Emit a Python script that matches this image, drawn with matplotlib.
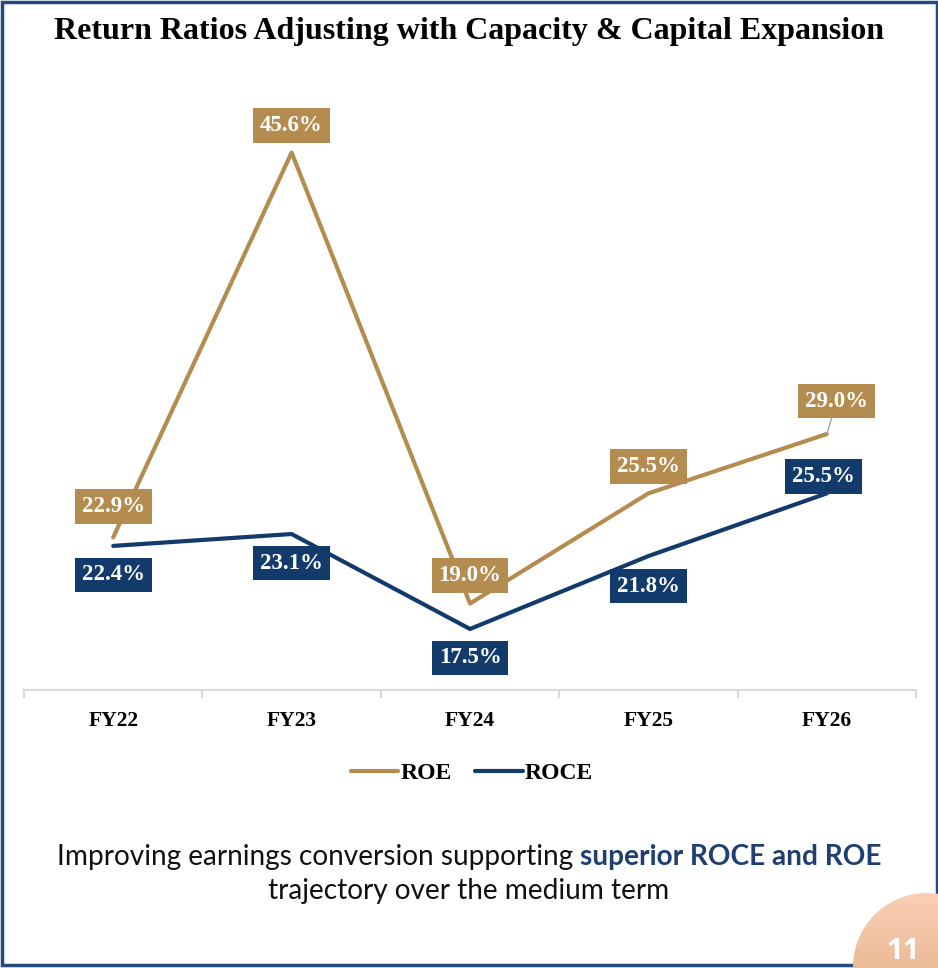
import numpy as np
import matplotlib.pyplot as plt
from matplotlib.patches import Rectangle, Circle

years = ['FY22', 'FY23', 'FY24', 'FY25', 'FY26']
roe = [22.9, 45.6, 19.0, 25.5, 29.0]
roce = [22.4, 23.1, 17.5, 21.8, 25.5]

gold = '#B48C4F'
navy = '#123A6B'
frame = '#264A7E'
serif = 'Liberation Serif'

# label offsets in pixels (dx, dy) relative to each point
roe_off = [(0, 31), (0, 27), (0, 28), (0, 27), (10, 33)]
roce_off = [(0, -29), (0, -29), (0, -29), (0, -30), (-3, 17)]

W, H = 938, 968
fig = plt.figure(figsize=(W / 100, H / 100), dpi=100)

# background layer in pixel coordinates: frame + page number bubble
bg = fig.add_axes([0, 0, 1, 1], zorder=0)
bg.set_xlim(0, W); bg.set_ylim(H, 0); bg.axis('off')
bg.add_patch(Rectangle((1.5, 1.5), W - 3, 963, fill=False, ec=frame, lw=2.5))
cx, cy, r = 927, 967, 74
circ = Circle((cx, cy), r, transform=bg.transData, fc='none', ec='none')
bg.add_patch(circ)
grad = np.linspace(0, 1, 100)[:, None]
c_top = np.array([250, 206, 182]) / 255
c_bot = np.array([222, 168, 122]) / 255
img = c_top + (c_bot - c_top) * grad[..., None]
img = np.repeat(img, 2, axis=1)
im = bg.imshow(img, extent=(cx - r, cx + r, cy + r, cy - r), origin='upper',
               aspect='auto', zorder=2)
im.set_clip_path(circ)
bg.set_xlim(0, W); bg.set_ylim(H, 0)
bg.text(903, 966, '11', color='white', fontsize=21, fontweight='bold',
        family='Open Sans', ha='center', va='bottom', zorder=3)

# title
fig.text(0.5, 1 - 32 / H, 'Return Ratios Adjusting with Capacity & Capital Expansion',
         ha='center', va='center', fontsize=23, fontweight='bold', family=serif)

# main chart
ax = fig.add_axes([24 / W, 1 - 690 / H, (916 - 24) / W, (690 - 78) / H], zorder=1)
ax.set_facecolor('none')
x = np.arange(len(years))
ax.plot(x, roe, color=gold, lw=3, label='ROE', solid_capstyle='round', zorder=2)
ax.plot(x, roce, color=navy, lw=3, label='ROCE', solid_capstyle='round', zorder=2)
ax.set_xlim(-0.5, len(years) - 0.5)
ax.set_ylim(13.9, 50)

for vals, offs, col in [(roe, roe_off, gold), (roce, roce_off, navy)]:
    for i, v in enumerate(vals):
        dx, dy = offs[i]
        arrow = None
        if abs(dx) > 5:
            arrow = dict(arrowstyle='-', color='#A6A6A6', lw=1, shrinkA=0, shrinkB=0)
        ax.annotate(f'{v:.1f}%', (x[i], v), xytext=(dx, dy), textcoords='offset pixels',
                    ha='center', va='center', color='white', fontsize=16.5,
                    fontweight='bold', family=serif, zorder=5, arrowprops=arrow,
                    bbox=dict(boxstyle='square,pad=0.3', fc=col, ec='none'))

for s in ['top', 'right', 'left']:
    ax.spines[s].set_visible(False)
ax.spines['bottom'].set_color('#D9D9D9')
ax.spines['bottom'].set_linewidth(1.5)
ax.set_yticks([])
ax.set_xticks(x)
ax.set_xticklabels(years, fontsize=15.5, fontweight='bold', family=serif)
ax.tick_params(axis='x', which='major', length=0, pad=15)
ax.set_xticks(np.arange(-0.5, len(years)), minor=True)
ax.tick_params(axis='x', which='minor', length=6, width=1.5, color='#D9D9D9')

fig.legend(loc='center', bbox_to_anchor=(472 / W, 1 - 773 / H), ncol=2, frameon=False,
           prop=dict(family=serif, weight='bold', size=17), handlelength=2.0,
           handletextpad=0.1, columnspacing=1.0)

# footnote with highlighted part
fs = 20.2
p1 = 'Improving earnings conversion supporting '
p2 = 'superior ROCE and ROE'
t1 = fig.text(0, 1 - 857 / H, p1, fontsize=fs, family='Lato', va='center', color='#111111')
t2 = fig.text(0, 1 - 857 / H, p2, fontsize=fs, family='Lato', va='center',
              color='#1F3F73', fontweight='bold')
fig.canvas.draw()
rend = fig.canvas.get_renderer()
w1 = t1.get_window_extent(rend).width / W
w2 = t2.get_window_extent(rend).width / W
x0 = 0.5 - (w1 + w2) / 2
t1.set_x(x0); t2.set_x(x0 + w1)
fig.text(0.5, 1 - 891 / H, 'trajectory over the medium term', fontsize=fs, family='Lato',
         ha='center', va='center', color='#111111')

fig.savefig('out.png', dpi=100)
